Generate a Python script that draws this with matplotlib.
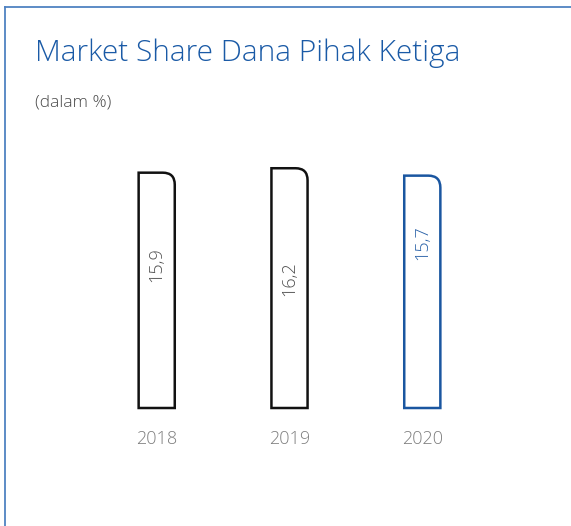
import matplotlib
matplotlib.use("Agg")
import matplotlib.pyplot as plt
from matplotlib.path import Path
from matplotlib.patches import PathPatch
from matplotlib.lines import Line2D

# ---- data ----
years = ["2018", "2019", "2020"]
values = [15.9, 16.2, 15.7]
value_labels = ["15,9", "16,2", "15,7"]

title = "Market Share Dana Pihak Ketiga"
subtitle = "(dalam %)"

# ---- style ----
edge_colors = ["#111111", "#111111", "#1a56a0"]
label_colors = ["#505050", "#505050", "#2a62a8"]
label_pos = [0.61, 0.54, 0.71]   # label centre as fraction of bar height
frame_color = "#4f82c2"
title_color = "#1a5aa6"

plt.rcParams['font.family'] = ['Open Sans', 'DejaVu Sans']
plt.rcParams['font.weight'] = 'light'

W, H = 571, 526
fig = plt.figure(figsize=(W / 100, H / 100), dpi=100)

# frame (left and top edges)
fig.add_artist(Line2D([4.5 / W, 4.5 / W], [0, 1 - 6.5 / H], transform=fig.transFigure,
                      color=frame_color, lw=1.3, solid_capstyle='projecting'))
fig.add_artist(Line2D([4.5 / W, 1], [1 - 6.5 / H, 1 - 6.5 / H], transform=fig.transFigure,
                      color=frame_color, lw=1.3, solid_capstyle='projecting'))

fig.text(35 / W, 1 - 61 / H, title, color=title_color, fontsize=21.5, ha='left',
         va='baseline', fontweight='light')
fig.text(35 / W, 1 - 106 / H, subtitle, color="#4a4a4a", fontsize=12.5, ha='left',
         va='baseline', fontweight='light')

px_x = 132.8
px_y = 14.8
x0_px = 156.7
xlim = (-0.9, 2.9)
ylim = (0, 20)
left_px = x0_px + xlim[0] * px_x
base_px = 408
ax = fig.add_axes([left_px / W, (H - base_px) / H, (xlim[1] - xlim[0]) * px_x / W,
                   (ylim[1] - ylim[0]) * px_y / H])
ax.set_xlim(*xlim)
ax.set_ylim(*ylim)
for s in ax.spines.values():
    s.set_visible(False)
ax.set_yticks([])
ax.set_xticks(range(len(years)), years)
ax.tick_params(axis='x', length=0, pad=16, labelsize=13, labelcolor="#7e7e7e")

bw = 0.272
r_px = 12
rx = r_px / px_x
ry = r_px / px_y
for i, v in enumerate(values):
    xa = i - bw / 2
    xb = i + bw / 2
    verts = [(xa, 0), (xa, v), (xb - rx, v), (xb, v), (xb, v - ry), (xb, 0), (xa, 0)]
    codes = [Path.MOVETO, Path.LINETO, Path.LINETO, Path.CURVE3, Path.CURVE3,
             Path.LINETO, Path.CLOSEPOLY]
    ax.add_patch(PathPatch(Path(verts, codes), facecolor='white', edgecolor=edge_colors[i],
                           lw=1.8, joinstyle='miter', clip_on=False))
    ax.text(i, v * label_pos[i], value_labels[i], rotation=90, ha='center', va='center',
            color=label_colors[i], fontsize=13, fontweight='light')

fig.savefig("out.png", dpi=100)
